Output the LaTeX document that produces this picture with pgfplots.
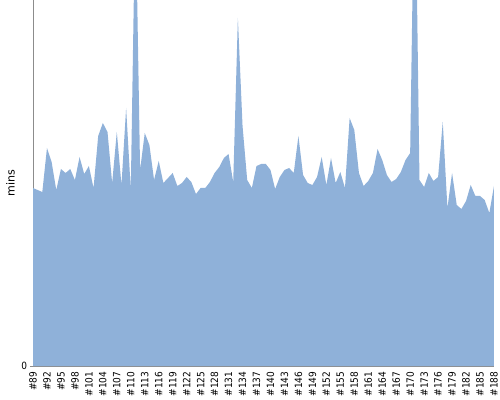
\documentclass[border=0pt]{standalone}
\usepackage{fontspec}
\setmainfont{DejaVu Sans}
\newfontfamily\condfont{DejaVu Sans Condensed}
\usepackage{pgfplots}
\usepackage{pgfplotstable}
\pgfplotsset{compat=1.18}
\definecolor{areablue}{RGB}{143,177,217}
\definecolor{axisgray}{RGB}{140,140,140}
\pgfplotstableread{
x y
0 178
1 176
2 174
3 218
4 204
5 176
6 197
7 193
8 197
9 186
10 209
11 192
12 200
13 178
14 230
15 243
16 234
17 183
18 234
19 181
20 258
21 176
22 470
23 196
24 233
25 221
26 186
27 205
28 183
29 188
30 193
31 180
32 183
33 189
34 184
35 172
36 178
37 178
38 184
39 193
40 199
41 208
42 212
43 184
44 348
45 240
46 186
47 178
48 200
49 202
50 202
51 196
52 177
53 189
54 196
55 198
56 193
57 230
58 191
59 183
60 181
61 189
62 209
63 181
64 208
65 183
66 194
67 178
68 248
69 236
70 193
71 180
72 185
73 193
74 217
75 206
76 191
77 184
78 187
79 194
80 206
81 213
82 530
83 186
84 179
85 193
86 185
87 189
88 244
89 158
90 193
91 161
92 157
93 165
94 181
95 170
96 170
97 166
98 153
99 180
}\datatable
\begin{document}
\begin{tikzpicture}
\useasboundingbox (-24.75pt,-25.5pt) rectangle (350.25pt,274.5pt);
\begin{axis}[
  at={(0,0)}, anchor=south west,
  scale only axis,
  width=345.75pt, height=274.5pt,
  xmin=0, xmax=99, ymin=0, ymax=366,
  axis x line=bottom, axis y line=left,
  axis line style={draw=axisgray, -},
  xtick={0,3,...,99},
  xticklabels={\#89,\#92,\#95,\#98,\#101,\#104,\#107,\#110,\#113,\#116,\#119,\#122,\#125,\#128,\#131,\#134,\#137,\#140,\#143,\#146,\#149,\#152,\#155,\#158,\#161,\#164,\#167,\#170,\#173,\#176,\#179,\#182,\#185,\#188},
  ytick={0},
  yticklabels={0},
  xtick style={draw=none},
  ytick style={draw=axisgray},
  tick align=outside,
  major tick length=2.25pt,
  /pgf/number format/assume math mode=true,
  tick label style={font=\condfont\fontsize{7.5pt}{9pt}\selectfont},
  xticklabel style={rotate=90, anchor=east, inner sep=1.8pt},
  yticklabel style={inner sep=2pt},
  ylabel={mins},
  every axis y label/.style={at={(axis description cs:0,0.5)}, xshift=-16.9pt, rotate=90, anchor=center, font=\fontsize{8.3pt}{10pt}\selectfont},
  clip=true,
]
\addplot[fill=areablue, draw=none] table[x=x,y=y]{\datatable} \closedcycle;
\end{axis}
\end{tikzpicture}
\end{document}
